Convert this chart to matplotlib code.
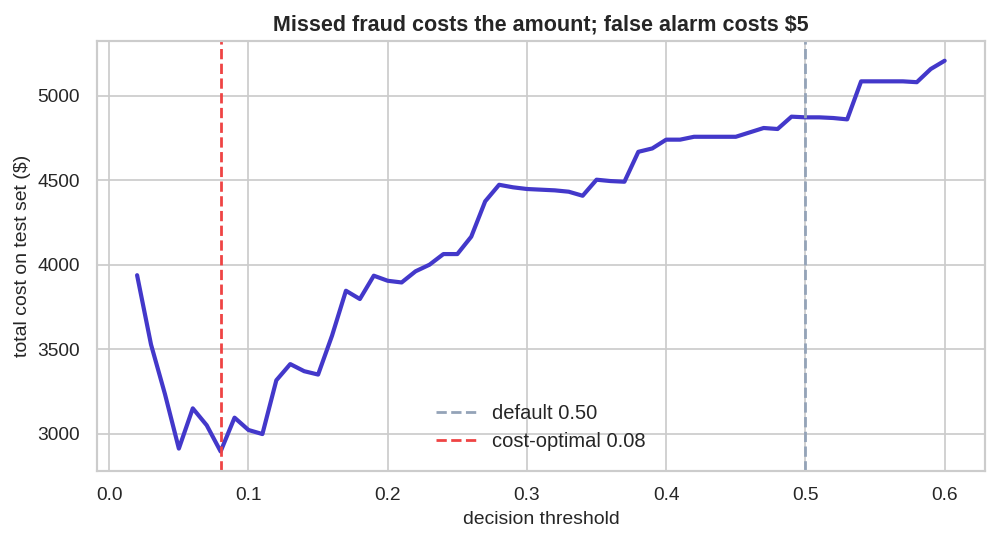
import matplotlib

matplotlib.use("Agg")

import matplotlib.pyplot as plt
import numpy as np
import seaborn as sns

sns.set_theme(style="whitegrid", context="notebook")
plt.rcParams["font.family"] = ["Arial", "Liberation Sans", "DejaVu Sans"]

thresholds = [0.02, 0.03, 0.04, 0.05, 0.06, 0.07, 0.08, 0.09, 0.10, 0.11,
              0.12, 0.13, 0.14, 0.15, 0.16, 0.17, 0.18, 0.19, 0.20, 0.21,
              0.22, 0.23, 0.24, 0.25, 0.26, 0.27, 0.28, 0.29, 0.30, 0.31,
              0.32, 0.33, 0.34, 0.35, 0.36, 0.37, 0.38, 0.39, 0.40, 0.41,
              0.42, 0.43, 0.44, 0.45, 0.46, 0.47, 0.48, 0.49, 0.50, 0.51,
              0.52, 0.53, 0.54, 0.55, 0.56, 0.57, 0.58, 0.59, 0.60]
costs = [3938, 3528, 3235, 2912, 3150, 3050, 2895, 3095, 3022, 2998,
         3316, 3412, 3370, 3350, 3580, 3846, 3797, 3935, 3905, 3895,
         3961, 4000, 4063, 4063, 4166, 4375, 4473, 4458, 4448, 4444,
         4440, 4432, 4408, 4503, 4495, 4491, 4668, 4688, 4740, 4740,
         4757, 4757, 4757, 4757, 4783, 4809, 4803, 4876, 4872, 4872,
         4868, 4860, 5085, 5085, 5085, 5085, 5080, 5158, 5207]
default_t = 0.50
best_t = 0.08

fig, ax = plt.subplots(figsize=(7.976, 4.336), dpi=125)
fig.subplots_adjust(left=0.097, right=0.988, top=0.924, bottom=0.131)

ax.plot(thresholds, costs, color="#4338ca", lw=2.4)
ax.axvline(default_t, color="#94a3b8", ls="--", lw=1.6, label=f"default {default_t:.2f}")
ax.axvline(best_t, color="#ef4444", ls="--", lw=1.6, label=f"cost-optimal {best_t:.2f}")

ax.set_title("Missed fraud costs the amount; false alarm costs $5",
             fontweight="bold", fontsize=12.4)
ax.set_xlabel("decision threshold", fontsize=11.2)
ax.set_ylabel("total cost on test set ($)", fontsize=11.2)
ax.legend(loc="lower center", frameon=False, bbox_to_anchor=(0.5, 0.005),
          fontsize=11.6, labelspacing=0.42)

fig.savefig("out.png", dpi=125)
